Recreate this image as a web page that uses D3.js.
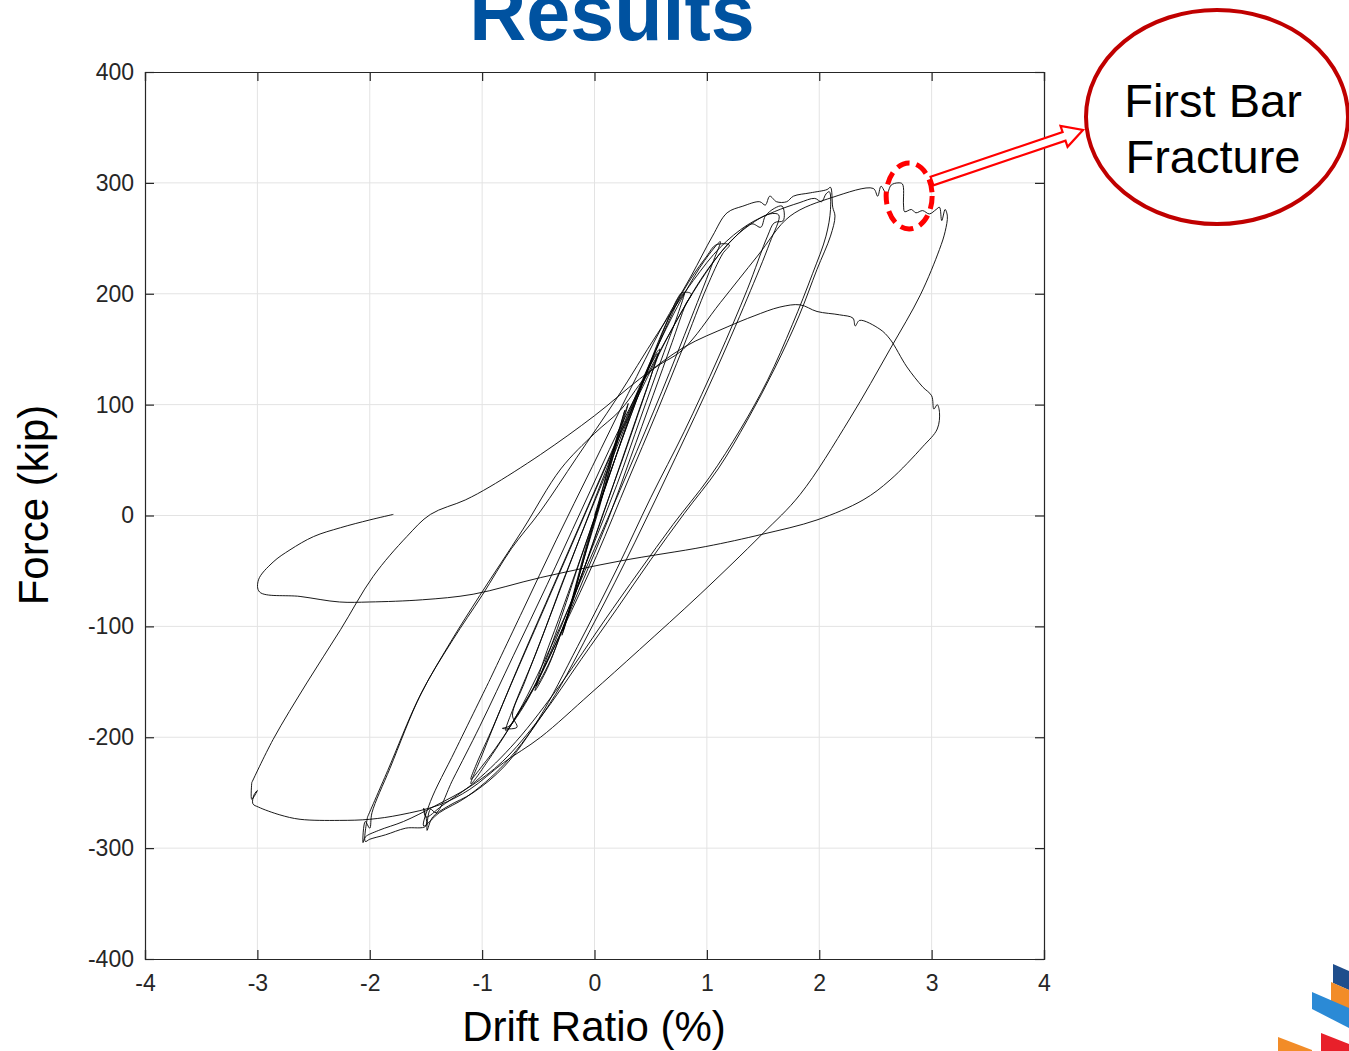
<!DOCTYPE html>
<html>
<head>
<meta charset="utf-8">
<script src="https://cdnjs.cloudflare.com/ajax/libs/d3/7.8.5/d3.min.js"></script>
<style>
  body { margin: 0; background: #fff; }
  svg { display: block; font-family: "Liberation Sans", Arial, sans-serif; }
</style>
</head>
<body>
<div id="chart"></div>
<script>
//section 1 data (drift in %, force in kip)
let xTicks = [-4, -3, -2, -1, 0, 1, 2, 3, 4];
let yTicks = [-400, -300, -200, -100, 0, 100, 200, 300, 400];

// cycles in the order they were run, small ones first
let loop025 = [[0,0],[0.06,20],[0.14,50],[0.22,78],[0.27,95],[0.24,84],[0.14,48],[0.03,8],[-0.08,-30],[-0.17,-64],[-0.25,-94],[-0.28,-104],[-0.23,-88],[-0.13,-52],[-0.02,-12],[0.09,26],[0.19,64],[0.27,92],[0.3,101],[0.26,86],[0.15,47],[0.04,6],[-0.07,-31],[-0.18,-70],[-0.26,-99],[-0.29,-108],[-0.22,-84],[-0.1,-40]];
let loop050 = [[-0.1,-40],[0.02,2],[0.14,38],[0.28,80],[0.4,114],[0.5,136],[0.56,146],[0.51,128],[0.39,92],[0.24,48],[0.07,0],[-0.1,-50],[-0.26,-96],[-0.39,-130],[-0.48,-148],[-0.52,-154],[-0.45,-130],[-0.32,-94],[-0.15,-46],[0.03,6],[0.2,56],[0.36,100],[0.48,132],[0.56,148],[0.58,150],[0.52,131],[0.4,96],[0.25,52],[0.08,2],[-0.1,-50],[-0.27,-98],[-0.42,-138],[-0.53,-158],[-0.47,-141],[-0.33,-102],[-0.16,-50]];
let loop075 = [[-0.16,-50],[0.02,4],[0.2,56],[0.38,106],[0.54,148],[0.66,178],[0.74,196],[0.78,201],[0.86,200],[0.81,190],[0.69,156],[0.52,108],[0.32,52],[0.12,-4],[-0.1,-58],[-0.32,-110],[-0.52,-152],[-0.68,-178],[-0.76,-190],[-0.82,-192],[-0.69,-191],[-0.73,-180],[-0.62,-150],[-0.43,-100],[-0.22,-44],[0,14],[0.24,76],[0.46,128],[0.63,168],[0.76,196],[0.8,201],[0.74,181],[0.6,142],[0.41,88],[0.2,28],[-0.04,-34],[-0.28,-96],[-0.5,-148],[-0.68,-180],[-0.79,-194],[-0.7,-168],[-0.52,-124],[-0.3,-64]];
let loop100 = [[-0.3,-64],[-0.05,0],[0.2,62],[0.44,124],[0.66,178],[0.86,214],[1.0,234],[1.08,244],[1.2,244],[1.14,236],[1.0,206],[0.79,152],[0.55,92],[0.3,32],[0.02,-36],[-0.28,-102],[-0.58,-162],[-0.84,-204],[-1.0,-226],[-1.1,-238],[-1.05,-224],[-0.9,-190],[-0.66,-132],[-0.36,-62],[-0.06,8],[0.24,78],[0.54,148],[0.8,200],[0.98,230],[1.12,247],[1.06,230],[0.86,178],[0.6,112],[0.3,40],[0,-30],[-0.34,-108],[-0.68,-178],[-0.94,-220],[-1.1,-242],[-1.0,-216],[-0.8,-166],[-0.5,-96]];
let loop150 = [[-0.5,-96],[-0.2,-26],[0.1,44],[0.4,110],[0.7,170],[0.98,218],[1.22,248],[1.4,263],[1.48,260],[1.52,270],[1.6,277],[1.67,279],[1.68,266],[1.6,264],[1.54,252],[1.36,204],[1.1,142],[0.8,76],[0.5,16],[0.2,-48],[-0.15,-118],[-0.5,-184],[-0.8,-226],[-1.08,-250],[-1.3,-262],[-1.44,-272],[-1.49,-284],[-1.46,-265],[-1.41,-268],[-1.26,-238],[-1.02,-190],[-0.72,-126],[-0.42,-62],[-0.12,4],[0.22,78],[0.58,148],[0.92,208],[1.18,244],[1.38,262],[1.56,272],[1.64,271],[1.56,246],[1.36,196],[1.06,126],[0.72,52],[0.36,-24],[0,-96],[-0.4,-170],[-0.8,-224],[-1.14,-254],[-1.38,-268],[-1.52,-280],[-1.46,-258],[-1.24,-212],[-0.94,-150]];
let loop200 = [[-0.94,-150],[-0.64,-86],[-0.34,-22],[-0.02,44],[0.3,110],[0.6,170],[0.86,216],[1.05,252],[1.18,273],[1.32,279],[1.47,283],[1.52,280],[1.56,288],[1.62,283],[1.71,283],[1.77,288],[1.92,291],[2.07,294],[2.1,296],[2.12,278],[2.14,270],[2.1,252],[1.98,222],[1.82,180],[1.6,132],[1.36,86],[1.1,42],[0.8,2],[0.5,-40],[0.2,-84],[-0.12,-130],[-0.48,-182],[-0.82,-222],[-1.1,-244],[-1.42,-262],[-1.7,-276],[-1.92,-284],[-2.04,-290],[-2.06,-295],[-2.04,-276],[-2.0,-282],[-1.98,-268],[-1.82,-228],[-1.54,-160],[-1.26,-112],[-1.0,-72],[-0.74,-30],[-0.48,4],[-0.16,52],[0.2,106],[0.56,164],[0.88,212],[1.12,242],[1.36,262],[1.6,274],[1.82,282],[1.96,286],[2.02,283],[2.06,290],[2.09,292],[2.1,276],[2.06,252],[1.94,218],[1.76,172],[1.54,122],[1.3,78],[1.02,34],[0.7,-8],[0.4,-50],[0.08,-96],[-0.3,-152],[-0.7,-204],[-1.06,-240],[-1.36,-262],[-1.5,-272],[-1.52,-264],[-1.5,-280],[-1.68,-282],[-1.86,-288],[-2.0,-292],[-2.04,-294],[-2.02,-272]];
let loop300 = [[-2.02,-272],[-1.84,-230],[-1.56,-164],[-1.28,-114],[-1.02,-72],[-0.64,-13],[-0.3,42],[0.0,74],[0.23,95],[0.5,130],[0.79,150],[1.12,192],[1.45,234],[1.74,270],[2.12,287],[2.48,295],[2.52,288],[2.55,297],[2.6,290],[2.64,298],[2.7,300],[2.74,299],[2.75,280],[2.76,274],[2.82,276],[2.86,273],[2.92,275],[2.98,272],[3.04,276],[3.07,278],[3.09,266],[3.12,276],[3.14,270],[3.12,256],[3.07,240],[2.9,199],[2.63,150],[2.27,87],[1.83,19],[1.49,-17],[0.94,-71],[0.4,-121],[-0.04,-161],[-0.48,-200],[-0.81,-223],[-1.11,-247],[-1.38,-261],[-1.73,-270],[-2.0,-274],[-2.27,-275],[-2.62,-274],[-2.8,-270],[-2.99,-263],[-3.04,-260],[-3.03,-252],[-3.0,-248],[-3.05,-256],[-3.05,-241]];
let loop300b = [[-3.05,-241],[-2.86,-202],[-2.56,-151],[-2.26,-103],[-1.97,-55],[-1.67,-19],[-1.46,1],[-1.15,14],[-0.93,26],[-0.48,55],[0.0,90],[0.4,123],[0.8,152],[1.18,170],[1.42,180],[1.65,188],[1.83,190],[1.98,184],[2.18,181],[2.3,178],[2.32,171],[2.36,176],[2.54,168],[2.63,159],[2.78,134],[2.92,116],[3.0,108],[3.02,96],[3.05,100],[3.07,93],[3.05,78],[2.92,62],[2.63,32],[2.39,14],[1.98,-4],[1.49,-17],[0.99,-28],[0.23,-41],[-0.48,-56],[-1.08,-71],[-1.53,-76],[-2.0,-78],[-2.27,-78],[-2.62,-73],[-2.98,-69],[-2.99,-58],[-2.86,-42],[-2.71,-31],[-2.5,-19],[-2.26,-11],[-2.0,-4],[-1.79,1]];

let loops = [loop025, loop050, loop075, loop100, loop150, loop200, loop300, loop300b];

// where the first bar broke and the words in the callout
let fracturePoint = [2.8, 290];
let calloutLines = ['First Bar', 'Fracture'];

//section 2 set up the svg and the scales
let width = 1349;
let height = 1051;
let plotLeft = 145, plotRight = 1044, plotTop = 72, plotBottom = 959;

let svg = d3
  .select('#chart')
  .append('svg')
  .attr('width', width)
  .attr('height', height);

svg.append('rect').attr('width', width).attr('height', height).attr('fill', '#fff');

let x = d3.scaleLinear().domain([-4, 4]).range([plotLeft, plotRight]);
let y = d3.scaleLinear().domain([-400, 400]).range([plotBottom, plotTop]);

//title, cut off at the top like the slide
svg.append('text')
  .attr('x', 612)
  .attr('y', 40)
  .attr('text-anchor', 'middle')
  .attr('font-size', 79)
  .attr('font-weight', 'bold')
  .attr('fill', '#0052A0')
  .text('Results');

//grid lines
let grid = svg.append('g');
grid.selectAll('.gx').data(xTicks.slice(1, -1)).enter().append('line')
  .attr('x1', d => x(d)).attr('x2', d => x(d))
  .attr('y1', plotTop).attr('y2', plotBottom)
  .attr('stroke', '#e3e3e3').attr('stroke-width', 1);
grid.selectAll('.gy').data(yTicks.slice(1, -1)).enter().append('line')
  .attr('y1', d => y(d)).attr('y2', d => y(d))
  .attr('x1', plotLeft).attr('x2', plotRight)
  .attr('stroke', '#e3e3e3').attr('stroke-width', 1);

//the hysteresis curve, one path through all the cycles
let allPoints = [].concat(...loops);
let line = d3.line()
  .x(d => x(d[0]))
  .y(d => y(d[1]))
  .curve(d3.curveCatmullRom.alpha(0.5));

svg.append('path')
  .datum(allPoints)
  .attr('d', line)
  .attr('fill', 'none')
  .attr('stroke', '#000')
  .attr('stroke-width', 0.9)
  .attr('stroke-linejoin', 'round');

//axes, matlab style with ticks inside on all four sides
let tickLen = 9;
let axisColor = '#262626';
let plainNum = d => String(d); // keeps the plain hyphen like the original

let bottomAxis = svg.append('g')
  .attr('transform', `translate(0,${plotBottom})`)
  .call(d3.axisBottom(x).tickValues(xTicks).tickSize(-tickLen).tickPadding(16).tickFormat(plainNum));
let topAxis = svg.append('g')
  .attr('transform', `translate(0,${plotTop})`)
  .call(d3.axisTop(x).tickValues(xTicks).tickSize(-tickLen).tickFormat(''));
let leftAxis = svg.append('g')
  .attr('transform', `translate(${plotLeft},0)`)
  .call(d3.axisLeft(y).tickValues(yTicks).tickSize(-tickLen).tickPadding(11).tickFormat(plainNum));
let rightAxis = svg.append('g')
  .attr('transform', `translate(${plotRight},0)`)
  .call(d3.axisRight(y).tickValues(yTicks).tickSize(-tickLen).tickFormat(''));

[bottomAxis, topAxis, leftAxis, rightAxis].forEach(a => {
  a.select('.domain').attr('stroke', axisColor).attr('stroke-width', 1.2);
  a.selectAll('.tick line').attr('stroke', axisColor).attr('stroke-width', 1.2);
  a.selectAll('.tick text')
    .attr('fill', axisColor)
    .attr('font-size', 23)
    .attr('font-family', '"Liberation Sans", Arial, sans-serif');
});
bottomAxis.selectAll('.tick text').attr('dy', '0.71em');

//axis labels
svg.append('text')
  .attr('x', 594)
  .attr('y', 1041)
  .attr('text-anchor', 'middle')
  .attr('font-size', 42)
  .attr('fill', '#000')
  .text('Drift Ratio (%)');

svg.append('text')
  .attr('transform', 'translate(48,505) rotate(-90)')
  .attr('text-anchor', 'middle')
  .attr('font-size', 42)
  .attr('fill', '#000')
  .text('Force (kip)');

//callout: dashed ring on the fracture, hollow arrow, big ellipse with text
let fx = x(fracturePoint[0]), fy = y(fracturePoint[1]) + 2;
svg.append('ellipse')
  .attr('cx', fx).attr('cy', fy)
  .attr('rx', 23).attr('ry', 33)
  .attr('fill', 'none')
  .attr('stroke', '#ff0000')
  .attr('stroke-width', 5)
  .attr('stroke-dasharray', '13 7');

// arrow drawn along its own axis then rotated into place
let ax0 = 932, ay0 = 181, ax1 = 1083, ay1 = 130;
let aLen = Math.hypot(ax1 - ax0, ay1 - ay0);
let aAng = Math.atan2(ay1 - ay0, ax1 - ax0) * 180 / Math.PI;
let shaft = 4.5, head = 11, headLen = 20;
svg.append('polygon')
  .attr('transform', `translate(${ax0},${ay0}) rotate(${aAng})`)
  .attr('points', [
    [0, -shaft], [aLen - headLen, -shaft], [aLen - headLen, -head], [aLen, 0],
    [aLen - headLen, head], [aLen - headLen, shaft], [0, shaft]
  ].map(p => p.join(',')).join(' '))
  .attr('fill', '#fff')
  .attr('stroke', '#ff0000')
  .attr('stroke-width', 2.2);

svg.append('ellipse')
  .attr('cx', 1217).attr('cy', 117)
  .attr('rx', 131).attr('ry', 107)
  .attr('fill', '#fff')
  .attr('stroke', '#c00000')
  .attr('stroke-width', 4);

svg.selectAll('.callout').data(calloutLines).enter().append('text')
  .attr('x', 1213)
  .attr('y', (d, i) => 117 + i * 56)
  .attr('text-anchor', 'middle')
  .attr('font-size', 47)
  .attr('fill', '#000')
  .text(d => d);

//slide logo bits in the bottom right corner
let logo = svg.append('g');
let logoShapes = [
  { fill: '#1f4e8c', pts: [[1333,964],[1349,971],[1349,990],[1333,983]] },
  { fill: '#f28c28', pts: [[1331,982],[1349,990],[1349,1010],[1331,1002]] },
  { fill: '#2b8ad6', pts: [[1312,992],[1349,1008],[1349,1028],[1312,1009]] },
  { fill: '#e8202a', pts: [[1321,1033],[1349,1044],[1349,1051],[1321,1051]] },
  { fill: '#f28c28', pts: [[1278,1037],[1312,1050],[1312,1051],[1278,1051]] }
];
logo.selectAll('polygon').data(logoShapes).enter().append('polygon')
  .attr('points', d => d.pts.map(p => p.join(',')).join(' '))
  .attr('fill', d => d.fill);
</script>
</body>
</html>
